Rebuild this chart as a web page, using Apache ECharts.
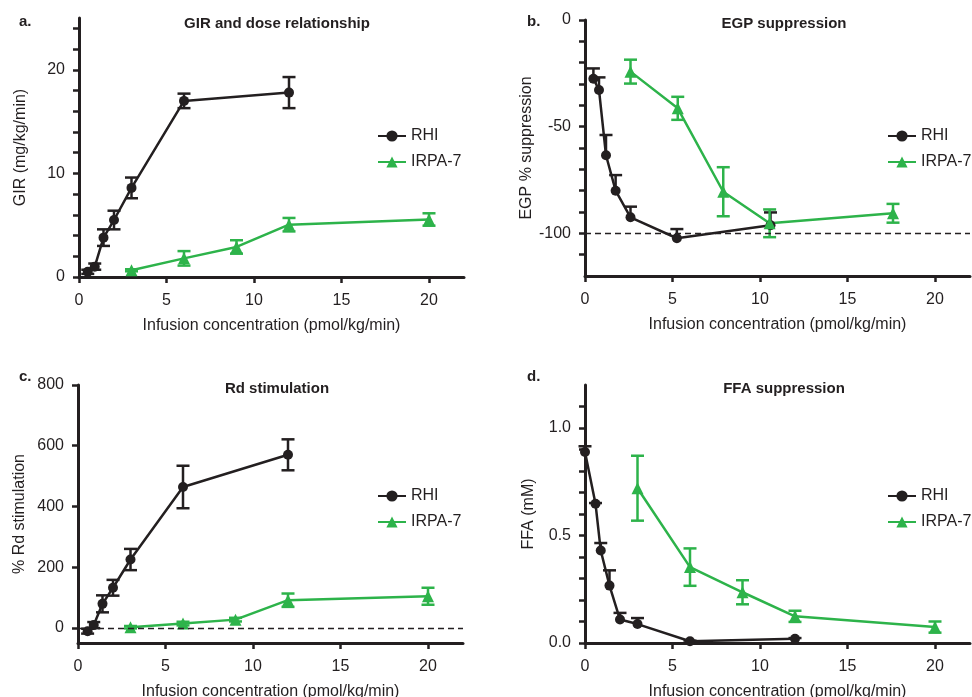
<!DOCTYPE html>
<html style="height: 100%">

<head>
    <meta charset="utf-8">
</head>

<body style="height: 100%; margin: 0; background: #fff">
    <div id="container" style="width: 972px; height: 697px"></div>
    <script src="https://cdn.jsdelivr.net/npm/echarts@6/dist/echarts.min.js"></script>
    <script type="text/javascript">
        // a. GIR
        var girRhiX = [0.5, 0.9, 1.4, 2, 3, 6, 12];
        var girRhiY = [0.5, 1.0, 3.8, 5.5, 8.6, 17.0, 17.8];
        var girRhiErr = [0.2, 0.3, 0.8, 0.9, 1.0, 0.7, 1.5];
        var girIrpaX = [3, 6, 9, 12, 20];
        var girIrpaY = [0.65, 1.8, 2.9, 5.05, 5.55];
        var girIrpaErr = [0.1, 0.7, 0.65, 0.65, 0.6];

        // b. EGP
        var egpRhiX = [0.48, 0.8, 1.2, 1.75, 2.6, 5.25, 10.6];
        var egpRhiY = [-27.5, -32.8, -63.4, -80, -92.5, -102.3, -96.2];
        var egpRhiErr = [4.8, 5.9, 9.5, 7.3, 5, 4.3, 6];
        var egpIrpaX = [2.6, 5.3, 7.9, 10.55, 17.6];
        var egpIrpaY = [-24.2, -41.4, -80.5, -95.3, -90.6];
        var egpIrpaErr = [5.6, 5.4, 11.5, 6.5, 4.4];

        // c. Rd
        var rdRhiX = [0.55, 0.9, 1.4, 2, 3, 6, 12];
        var rdRhiY = [-11, 9, 79, 132, 225, 464, 570];
        var rdRhiErr = [8, 10, 28, 26, 35, 70, 51];
        var rdIrpaX = [3, 6, 9, 12, 20];
        var rdIrpaY = [2, 14, 27, 91, 104];
        var rdIrpaErr = [4, 6, 6, 22, 28];

        // d. FFA
        var ffaRhiX = [0, 0.6, 0.9, 1.4, 2, 3, 6, 12];
        var ffaRhiY = [0.888, 0.648, 0.43, 0.267, 0.109, 0.088, 0.008, 0.02];
        var ffaRhiErr = [0.027, 0.003, 0.035, 0.071, 0.031, 0.028, 0.003, 0.003];
        var ffaIrpaX = [3, 6, 9, 12, 20];
        var ffaIrpaY = [0.72, 0.353, 0.236, 0.124, 0.074];
        var ffaIrpaErr = [0.151, 0.087, 0.056, 0.026, 0.026];

        // ticks / labels
        var xTicks = [0, 5, 10, 15, 20];
        var girTicks = [0, 2, 4, 6, 8, 10, 12, 14, 16, 18, 20, 22, 24];
        var girLabels = [0, 10, 20];
        var egpTicks = [0, -10, -20, -30, -40, -50, -60, -70, -80, -90, -100, -110];
        var egpLabels = [0, -50, -100];
        var rdTicks = [0, 200, 400, 600, 800];
        var ffaTicks = [0, 0.1, 0.2, 0.3, 0.4, 0.5, 0.6, 0.7, 0.8, 0.9, 1.0, 1.1];
        var ffaLabels = [0, 0.5, 1.0];

        var BLACK = '#231f20';
        var GREEN = '#2db34a';
        var FONT = "'Liberation Sans', Arial, sans-serif";

        var dom = document.getElementById("container");
        var myChart = echarts.init(dom);

        function pts(xs, ys) {
            return xs.map(function(x, i) { return [x, ys[i]]; });
        }

        function errData(xs, ys, errs, both) {
            return xs.map(function(x, i) {
                return [x, both ? ys[i] - errs[i] : ys[i], ys[i] + errs[i], both ? 1 : 0];
            });
        }

        function renderErr(params, api) {
            var x = api.value(0);
            var lo = api.coord([x, api.value(1)]);
            var hi = api.coord([x, api.value(2)]);
            var w = 6.5;
            var st = { stroke: api.visual('color'), lineWidth: 2.5 };
            var kids = [
                { type: 'line', shape: { x1: lo[0], y1: lo[1], x2: hi[0], y2: hi[1] }, style: st },
                { type: 'line', shape: { x1: hi[0] - w, y1: hi[1], x2: hi[0] + w, y2: hi[1] }, style: st }
            ];
            if (api.value(3)) {
                kids.push({ type: 'line', shape: { x1: lo[0] - w, y1: lo[1], x2: lo[0] + w, y2: lo[1] }, style: st });
            }
            return { type: 'group', children: kids };
        }

        var axisLine = { onZero: false, lineStyle: { color: BLACK, width: 3 } };
        var labelStyle = { color: BLACK, fontSize: 16, fontFamily: FONT };

        function xAxis(idx) {
            return {
                type: 'value', gridIndex: idx, min: 0, max: 22,
                axisLine: axisLine,
                axisTick: { length: 6, lineStyle: { color: BLACK, width: 2.5 }, customValues: xTicks },
                axisLabel: Object.assign({ margin: 16, customValues: xTicks }, labelStyle),
                splitLine: { show: false },
                name: 'Infusion concentration (pmol/kg/min)',
                nameLocation: 'middle', nameGap: 41,
                nameTextStyle: labelStyle
            };
        }

        function yAxis(idx, min, max, ticks, labels, name, gap, fmt) {
            return {
                type: 'value', gridIndex: idx, min: min, max: max,
                axisLine: axisLine,
                axisTick: { length: 6, lineStyle: { color: BLACK, width: 2.5 }, customValues: ticks },
                axisLabel: Object.assign({ margin: 14, customValues: labels, formatter: fmt }, labelStyle),
                splitLine: { show: false },
                name: name, nameLocation: 'middle', nameGap: gap,
                nameTextStyle: labelStyle
            };
        }

        function lineSeries(name, idx, data, color, symbol, size) {
            return {
                name: name, type: 'line', xAxisIndex: idx, yAxisIndex: idx,
                data: data, symbol: symbol, symbolSize: size, clip: false,
                itemStyle: { color: color },
                lineStyle: { color: color, width: 2.5 },
                z: 3
            };
        }

        function errSeries(idx, data, color) {
            return {
                type: 'custom', xAxisIndex: idx, yAxisIndex: idx,
                data: data, renderItem: renderErr, clip: false,
                itemStyle: { color: color },
                encode: { x: 0, y: [1, 2] },
                z: 2
            };
        }

        function dashed(idx, y) {
            return {
                type: 'line', xAxisIndex: idx, yAxisIndex: idx, data: [],
                markLine: {
                    silent: true, symbol: 'none', label: { show: false },
                    lineStyle: { color: BLACK, type: [6, 4], width: 1.3 },
                    data: [{ yAxis: y }]
                }
            };
        }

        function legend(left, top) {
            return {
                data: ['RHI', 'IRPA-7'], orient: 'vertical', left: left, top: top,
                itemWidth: 28, itemHeight: 14, itemGap: 10,
                textStyle: { color: BLACK, fontSize: 16, fontFamily: FONT }
            };
        }

        function heading(text, cx, top, align) {
            return {
                text: text, left: cx, top: top, textAlign: align || 'center',
                textStyle: { color: BLACK, fontSize: 15, fontWeight: 'bold', fontFamily: FONT }
            };
        }

        option = {
            animation: false,
            backgroundColor: '#fff',
            title: [
                heading('GIR and dose relationship', 272, 11),
                heading('EGP suppression', 779, 11),
                heading('Rd stimulation', 272, 376),
                heading('FFA suppression', 779, 376),
                heading('a.', 14, 9, 'left'),
                heading('b.', 522, 9, 'left'),
                heading('c.', 14, 364, 'left'),
                heading('d.', 522, 364, 'left')
            ],
            legend: [legend(372, 123), legend(882, 123), legend(372, 483), legend(882, 483)],
            grid: [
                { left: 79, top: 18, width: 385, height: 259, outerBoundsMode: 'none' },
                { left: 585, top: 20, width: 385, height: 256, outerBoundsMode: 'none' },
                { left: 78, top: 385, width: 385, height: 258, outerBoundsMode: 'none' },
                { left: 585, top: 385, width: 385, height: 258, outerBoundsMode: 'none' }
            ],
            xAxis: [xAxis(0), xAxis(1), xAxis(2), xAxis(3)],
            yAxis: [
                yAxis(0, 0, 25, girTicks, girLabels, 'GIR (mg/kg/min)', 50),
                yAxis(1, -120, 0, egpTicks, egpLabels, 'EGP % suppression', 48),
                yAxis(2, -50, 800, rdTicks, rdTicks, '% Rd stimulation', 50),
                yAxis(3, 0, 1.2, ffaTicks, ffaLabels, 'FFA (mM)', 48, function(v) { return v.toFixed(1); })
            ],
            series: [
                dashed(1, -100),
                dashed(2, 0),
                errSeries(0, errData(girRhiX, girRhiY, girRhiErr, true), BLACK),
                errSeries(0, errData(girIrpaX, girIrpaY, girIrpaErr, true), GREEN),
                lineSeries('RHI', 0, pts(girRhiX, girRhiY), BLACK, 'circle', 10),
                lineSeries('IRPA-7', 0, pts(girIrpaX, girIrpaY), GREEN, 'triangle', 12),

                errSeries(1, errData(egpRhiX, egpRhiY, egpRhiErr, false), BLACK),
                errSeries(1, errData(egpIrpaX, egpIrpaY, egpIrpaErr, true), GREEN),
                lineSeries('RHI', 1, pts(egpRhiX, egpRhiY), BLACK, 'circle', 10),
                lineSeries('IRPA-7', 1, pts(egpIrpaX, egpIrpaY), GREEN, 'triangle', 12),

                errSeries(2, errData(rdRhiX, rdRhiY, rdRhiErr, true), BLACK),
                errSeries(2, errData(rdIrpaX, rdIrpaY, rdIrpaErr, true), GREEN),
                lineSeries('RHI', 2, pts(rdRhiX, rdRhiY), BLACK, 'circle', 10),
                lineSeries('IRPA-7', 2, pts(rdIrpaX, rdIrpaY), GREEN, 'triangle', 12),

                errSeries(3, errData(ffaRhiX, ffaRhiY, ffaRhiErr, false), BLACK),
                errSeries(3, errData(ffaIrpaX, ffaIrpaY, ffaIrpaErr, true), GREEN),
                lineSeries('RHI', 3, pts(ffaRhiX, ffaRhiY), BLACK, 'circle', 10),
                lineSeries('IRPA-7', 3, pts(ffaIrpaX, ffaIrpaY), GREEN, 'triangle', 12)
            ]
        };

        myChart.setOption(option);
    </script>
</body>

</html>
